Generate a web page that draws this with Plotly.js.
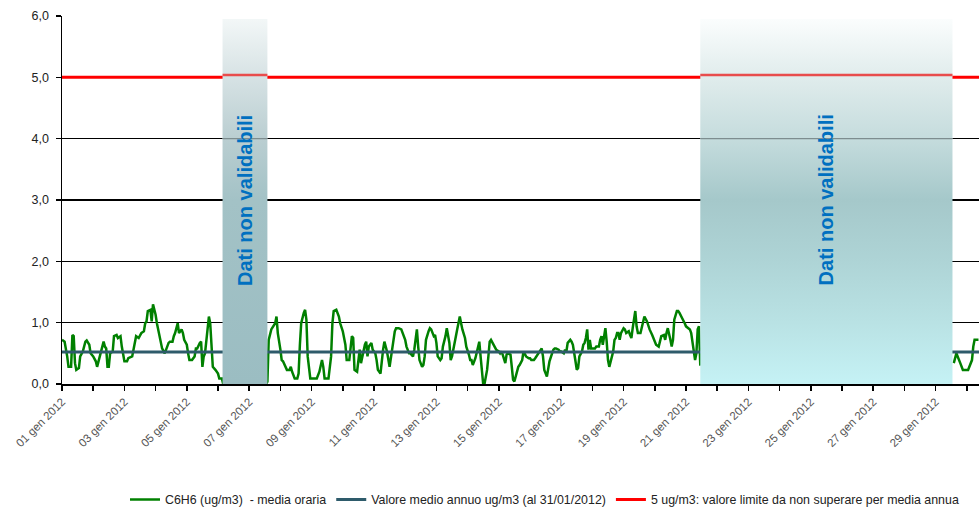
<!DOCTYPE html>
<html><head><meta charset="utf-8">
<script src="https://cdn.plot.ly/plotly-3.0.1.min.js"></script>
<style>html,body{margin:0;padding:0;background:#fff}#chart{width:979px;height:509px}</style>
</head><body><div id="chart"></div>
<script>
// ---- DATA ----
// hours elapsed since 01 gen 2012 00:00 and hourly C6H6 values (ug/m3)
const hours = [0,2,4,5,7,8,9,10,11,13,14,15,16,18,19,21,22,24,26,27,29,30,32,33,34,35,36,37,39,40,42,43,45,46,47,48,50,51,54,56,57,59,61,63,64,65,66,68,69,70,72,73,74,76,77,79,80,82,83,85,86,87,89,90,92,93,94,96,97,98,100,102,103,104,106,107,108,109,110,111,113,114,115,116,118,120,121,123,124,157,158,159,161,164,165,166,168,169,170,172,173,175,176,177,179,181,182,183,184,186,187,188,189,191,193,196,198,200,201,202,205,207,208,209,211,213,214,216,218,219,221,223,224,225,227,228,229,230,231,233,234,235,236,237,238,239,241,242,243,245,246,247,248,250,252,254,255,256,257,259,261,263,264,265,267,268,270,271,272,273,274,275,277,278,279,280,282,283,284,286,287,288,289,291,292,293,295,296,298,299,300,302,303,304,306,307,308,310,311,313,314,315,316,318,319,321,322,323,324,325,327,328,329,330,332,333,334,336,337,338,339,341,342,343,345,346,347,348,350,351,352,354,355,356,357,359,360,361,363,364,365,366,368,369,370,371,373,374,375,377,378,379,380,382,383,384,386,387,388,389,391,392,393,395,396,397,398,400,401,402,403,404,405,406,407,409,410,411,413,414,415,416,418,419,420,421,422,424,425,426,427,428,429,430,432,433,434,436,437,438,439,441,442,443,445,446,447,448,450,451,452,454,455,456,457,459,460,461,463,464,465,466,468,469,470,471,473,474,475,477,478,479,480,482,483,484,486,487,488,489,490,491,492,686,688,691,693,697,700,701,702,705];
const c6h6 = [.72,.69,.45,.28,.28,.80,.78,.34,.23,.26,.45,.48,.53,.69,.71,.64,.50,.45,.37,.28,.45,.50,.69,.61,.58,.28,.28,.50,.53,.78,.80,.75,.78,.61,.50,.37,.37,.42,.45,.67,.78,.75,.83,.86,.99,1.02,1.19,1.21,1.02,1.30,1.13,.99,.89,.72,.58,.50,.56,.67,.69,.69,.78,.83,.99,.83,.89,.83,.72,.64,.50,.39,.39,.45,.58,.58,.67,.69,.28,.45,.50,.72,1.10,.99,.56,.28,.23,.17,.09,.09,0,0,.04,.72,.89,.99,1.10,.83,.56,.39,.37,.26,.23,.23,.28,.20,.09,.09,.17,.64,.99,1.16,1.21,1.05,.45,.09,.09,.09,.20,.39,.28,.09,.09,.45,.99,1.19,1.21,1.10,.99,.86,.64,.39,.39,.78,.75,.23,.20,.39,.56,.34,.45,.64,.69,.45,.61,.64,.67,.56,.50,.39,.23,.17,.39,.56,.69,.53,.28,.56,.72,.86,.91,.91,.89,.78,.72,.61,.50,.50,.45,.56,.72,.89,.61,.39,.28,.31,.45,.72,.86,.91,.89,.78,.80,.67,.45,.39,.42,.61,.78,.91,.67,.39,.45,.64,.78,.89,1.10,.99,.89,.75,.61,.48,.39,.39,.31,.42,.53,.69,.45,.17,0,0,.23,.45,.69,.72,.64,.58,.56,.53,.50,.53,.48,.34,.48,.50,.48,.28,.07,.04,.20,.28,.31,.39,.53,.50,.45,.42,.42,.39,.39,.42,.45,.48,.53,.58,.45,.23,.12,.23,.37,.50,.56,.58,.58,.56,.53,.53,.50,.56,.53,.67,.72,.69,.64,.37,.23,.26,.45,.53,.64,.67,.75,.89,.56,.72,.58,.58,.58,.61,.61,.72,.78,.64,.91,.69,.39,.28,.37,.53,.72,.75,.83,.83,.72,.83,.91,.89,.83,.86,.80,.75,.91,1.19,.94,.83,.83,.94,1.05,1.10,1.02,.94,.89,.80,.75,.72,.64,.61,.72,.78,.80,.72,.83,.91,.72,.61,.72,1.05,1.19,1.19,1.16,1.08,1.05,.99,.94,.91,.89,.83,.50,.39,.50,.89,.94,.30,null,.34,.50,.34,.23,.23,.39,.61,.72,.72];
const meanValue = 0.52;     // Valore medio annuo
const limitValue = 5;       // valore limite
const rangeEndHour = 705.4;
const invalidStartHour = [123.5, 491];
const invalidEndHour = [158, 685];
const invalidTop = 5.95;
const invalidLabel = 'Dati non validabili';
const tickDays = [1,3,5,7,9,11,13,15,17,19,21,23,25,27,29];
const monthLabel = 'gen 2012';
const yTicks = [0,1,2,3,4,5,6];
const seriesNames = ['C6H6 (ug/m3)  - media oraria','Valore medio annuo ug/m3 (al 31/01/2012)','5 ug/m3: valore limite da non superare per media annua'];

// ---- helpers ----
const pad = n => String(n).padStart(2,'0');
function toDate(h){
  const d = new Date(Date.UTC(2012,0,1) + Math.round(h*60)*60000);
  return d.getUTCFullYear()+'-'+pad(d.getUTCMonth()+1)+'-'+pad(d.getUTCDate())+' '+pad(d.getUTCHours())+':'+pad(d.getUTCMinutes());
}
const xs = hours.map(toDate);
const x0 = toDate(0), x1 = toDate(rangeEndHour);

const grads = [
  [[0,'rgb(155,189,194)'],[0.5,'rgb(163,194,198)'],[0.667,'rgb(186,206,209)'],[0.833,'rgb(214,226,228)'],[1,'rgb(244,248,248)']],
  [[0,'rgb(197,242,245)'],[0.167,'rgb(185,226,228)'],[0.333,'rgb(174,212,214)'],[0.5,'rgb(165,200,202)'],[0.667,'rgb(197,220,221)'],[0.833,'rgb(224,236,236)'],[1,'rgb(252,254,254)']]
];

const traces = [
  {x: xs, y: c6h6, type:'scatter', mode:'lines', name: seriesNames[0], line:{color:'#008000', width:2.5}, connectgaps:false, hoverinfo:'skip'},
  {x:[x0,x1], y:[meanValue,meanValue], type:'scatter', mode:'lines', name: seriesNames[1], line:{color:'#2e5b6b', width:3}, hoverinfo:'skip'},
  {x:[x0,x1], y:[limitValue,limitValue], type:'scatter', mode:'lines', name: seriesNames[2], line:{color:'#ff0000', width:3}, hoverinfo:'skip'}
];
invalidStartHour.forEach((s,i)=>{
  const a = toDate(s), b = toDate(invalidEndHour[i]);
  traces.push({x:[a,b,b,a,a], y:[0,0,invalidTop,invalidTop,0], type:'scatter', mode:'lines', fill:'toself',
    line:{width:0}, fillgradient:{type:'vertical', colorscale: grads[i], start:0, stop:6}, showlegend:false, hoverinfo:'skip'});
  // faded grid line and limit line seen through the overlay
  traces.push({x:[a,b], y:[4,4], type:'scatter', mode:'lines', line:{color:'#7d8d8f', width:1.2}, showlegend:false, hoverinfo:'skip'});
  traces.push({x:[a,b], y:[limitValue+0.04,limitValue+0.04], type:'scatter', mode:'lines', line:{color:'#e84c4c', width:2.5}, showlegend:false, hoverinfo:'skip'});
});

const annotations = invalidStartHour.map((s,i)=>({
  x: toDate((s+invalidEndHour[i])/2), y: 3, xref:'x', yref:'y', text: invalidLabel, showarrow:false,
  textangle:-90, font:{family:'Liberation Sans, Arial, sans-serif', size:20, color:'#0070c0', weight:'bold'}
}));

const layout = {
  width:979, height:509,
  margin:{l:62, r:0, t:16, b:125},
  paper_bgcolor:'#fff', plot_bgcolor:'#fff',
  separators:',.',
  showlegend:true,
  legend:{orientation:'h', x:0.0687, xanchor:'left', xref:'paper', yref:'container', y:0.018, yanchor:'middle',
    font:{family:'Liberation Sans, Arial, sans-serif', size:12.4, color:'#222'}, traceorder:'normal'},
  xaxis:{type:'date', range:[x0,x1], automargin:false, showgrid:false, zeroline:false, showline:true, linecolor:'#000', linewidth:1.5,
    tickvals: tickDays.map(d=>'2012-01-'+pad(d)), ticktext: tickDays.map(d=>pad(d)+' '+monthLabel),
    ticks:'outside', ticklen:5, tickcolor:'#000', tickwidth:1.5, tickangle:-45,
    tickfont:{family:'Liberation Sans, Arial, sans-serif', size:11.5, color:'#555'},
    minor:{dtick:86400000, tick0:'2012-01-01', ticks:'outside', ticklen:5, tickcolor:'#000', tickwidth:1.5, showgrid:false}},
  yaxis:{range:[0,6], automargin:false, tickvals:yTicks, tickformat:'.1f', showgrid:true, gridcolor:'#000', gridwidth:1.5, zeroline:false,
    showline:true, linecolor:'#000', linewidth:1.5, ticks:'outside', ticklen:5, tickcolor:'#000', tickwidth:1.5,
    ticklabelstandoff:4,
    tickfont:{family:'Liberation Sans, Arial, sans-serif', size:12.5, color:'#222'}},
  annotations
};
Plotly.newPlot('chart', traces, layout, {staticPlot:true, displayModeBar:false});
</script></body></html>
